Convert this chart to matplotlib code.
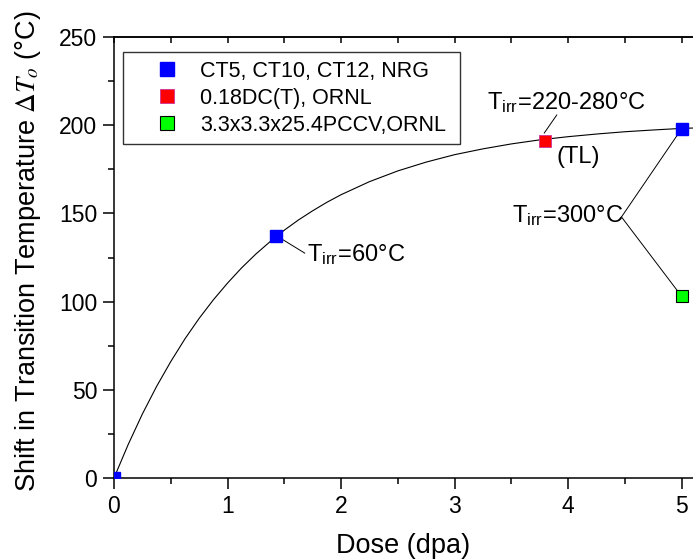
import matplotlib.pyplot as plt
import numpy as np

plt.rcParams['font.family'] = ['Liberation Sans', 'DejaVu Sans']
plt.rcParams['mathtext.fontset'] = 'stix'

# Messpunkte
dosis_blau = [0, 1.43, 5.0]
shift_blau = [0, 137, 198]
dosis_rot = [3.8]
shift_rot = [191]
dosis_gruen = [5.0]
shift_gruen = [103]

kurve_x = [0, 0.125, 0.25, 0.375, 0.5, 0.625, 0.75, 0.875, 1.0, 1.125, 1.25, 1.375,
           1.5, 1.625, 1.75, 1.875, 2.0, 2.25, 2.5, 2.75, 3.0, 3.25, 3.5, 3.75,
           4.0, 4.25, 4.5, 4.75, 5.0, 5.1]
kurve_y = [0, 19.0, 36.3, 51.9, 66.0, 78.9, 90.5, 101.0, 110.5, 119.2, 127.0, 134.0,
           140.5, 146.3, 151.5, 156.3, 160.6, 168.0, 174.1, 179.1, 183.3, 186.6, 189.4, 191.7,
           193.5, 195.0, 196.3, 197.3, 198.2, 198.4]

legende = ['CT5, CT10, CT12, NRG', '0.18DC(T), ORNL', '3.3x3.3x25.4PCCV,ORNL']

fig = plt.figure(figsize=(6.93, 5.6), dpi=100)
ax = fig.add_axes([0.1645, 0.1464, 0.8355, 0.7875])

ax.plot(kurve_x, kurve_y, color='black', lw=0.8, zorder=2)
ax.plot(dosis_blau, shift_blau, 's', ms=9, color='#0000ff', mec='#0000ff',
        label=legende[0], zorder=3)
ax.plot(dosis_rot, shift_rot, 's', ms=9, color='#ff0000', mec='#cc3399', mew=0.6,
        label=legende[1], zorder=3)
ax.plot(dosis_gruen, shift_gruen, 's', ms=9, color='#00ff00', mec='black', mew=0.8,
        label=legende[2], zorder=3)

# Beschriftungen mit Hinweislinien
tirr = 'T$_{\\mathregular{irr}}$'
ax.plot([1.49, 1.68], [135, 127.5], color='black', lw=0.7, zorder=1)
ax.text(1.70, 122.4, tirr + '=60°C', fontsize=17, va='baseline', ha='left')

ax.plot([3.79, 3.9], [195.6, 205.8], color='black', lw=0.7, zorder=1)
ax.text(3.283, 208.6, tirr + '=220-280°C', fontsize=17, va='baseline', ha='left')
ax.text(3.9, 188, '(TL)', fontsize=17, va='top', ha='left')

ax.text(3.51, 144.6, tirr + '=300°C', fontsize=17, va='baseline', ha='left')
ax.plot([4.47, 5.0], [148, 198], color='black', lw=0.7, zorder=1)
ax.plot([4.47, 5.0], [148, 103], color='black', lw=0.7, zorder=1)

ax.set_xlim(0, 5.1)
ax.set_ylim(0, 250)
ax.set_xticks([0, 1, 2, 3, 4, 5])
ax.set_xticks(np.arange(0.5, 5.1, 1.0), minor=True)
ax.set_yticks([0, 50, 100, 150, 200, 250])
ax.set_yticks(np.arange(25, 250, 50), minor=True)
ax.tick_params(which='major', direction='out', length=8, width=1.1, labelsize=16.5, pad=4)
ax.tick_params(which='minor', direction='out', length=4, width=1.1)
ax.spines['right'].set_visible(False)
for s in ['left', 'bottom', 'top']:
    ax.spines[s].set_linewidth(1.1)

# Ticks an der oberen Achse
oben = ax.secondary_xaxis('top')
oben.set_xticks(np.arange(0, 5.1, 0.5))
oben.tick_params(direction='in', length=4, width=1.1, labeltop=False)
oben.spines['top'].set_linewidth(1.1)

ax.set_xlabel('Dose (dpa)', fontsize=19.5, labelpad=11)
ax.set_ylabel('Shift in Transition Temperature $\\Delta T_o$ (°C)', fontsize=19.5)
ax.yaxis.set_label_coords(-0.1226, 0.515)

leg = ax.legend(loc='upper left', bbox_to_anchor=(0.0155, 0.773, 0.582, 0.193),
                mode='expand', fontsize=15.5, frameon=True, fancybox=False,
                edgecolor='black', handlelength=3.3, handletextpad=-0.12,
                borderpad=0.4, labelspacing=0.28, borderaxespad=0,
                numpoints=1, markerscale=1.05)
leg.get_frame().set_linewidth(1.0)

fig.savefig('out.png', dpi=100)
